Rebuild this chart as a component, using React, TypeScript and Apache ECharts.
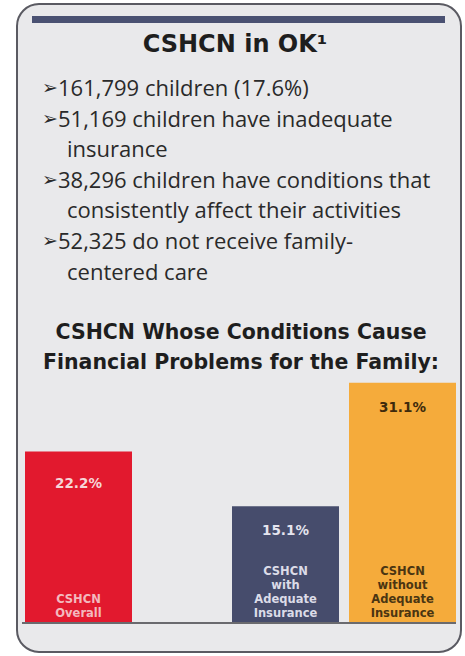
import React, { useEffect, useRef } from "react";
import * as echarts from "echarts";

// ---- data ----
const titleText = "CSHCN in OK\u00B9";
const bullets: string[][] = [
  ["161,799 children (17.6%)"],
  ["51,169 children have inadequate", "insurance"],
  ["38,296 children have conditions that", "consistently affect their activities"],
  ["52,325 do not receive family-", "centered care"],
];
const subtitleLines = ["CSHCN Whose Conditions Cause", "Financial Problems for the Family:"];
const groups = ["Overall", "By insurance status"];
const barLabels = [
  "CSHCN\nOverall",
  "CSHCN\nwith\nAdequate\nInsurance",
  "CSHCN\nwithout\nAdequate\nInsurance",
];
const barValues = [22.2, 15.1, 31.1];
const barGroup = [0, 1, 1];

// ---- styles ----
const barColors = ["#e2192e", "#464c6c", "#f5ab3b"];
const valueLabelColors = ["#f6d6d8", "#e4e4ee", "#3e2a0c"];
const nameLabelColors = ["#f3b9be", "#dcdce8", "#4a3512"];
const BODY = "'Open Sans', 'DejaVu Sans', sans-serif";
const HEAD = "'DejaVu Sans', sans-serif";

export default function App() {
  const ref = useRef<HTMLDivElement>(null);
  useEffect(() => {
    document.body.style.margin = "0";
    if (!ref.current) return;
    const chart = echarts.init(ref.current, undefined, { renderer: "svg" });

    const graphics: any[] = [];
    graphics.push({
      type: "rect",
      z: -10,
      shape: { x: 17, y: 4, width: 444, height: 648, r: 22 },
      style: { fill: "#e9e9eb", stroke: "#5a5a62", lineWidth: 2 },
    });
    graphics.push({
      type: "rect",
      z: -5,
      shape: { x: 32, y: 16, width: 413, height: 7 },
      style: { fill: "#4a5172" },
    });
    graphics.push({
      type: "text",
      x: 235,
      y: 44,
      style: {
        text: titleText,
        fill: "#1e1e1e",
        font: `bold 24px ${HEAD}`,
        textAlign: "center",
        textVerticalAlign: "middle",
      },
    });
    let li = 0;
    bullets.forEach((lines) => {
      lines.forEach((line, j) => {
        const y = 87 + li * 30.6;
        if (j === 0) {
          graphics.push({
            type: "text",
            x: 42,
            y,
            style: {
              text: "\u27A2",
              fill: "#2a2a2a",
              font: `19px 'DejaVu Sans', sans-serif`,
              textAlign: "left",
              textVerticalAlign: "middle",
            },
          });
        }
        graphics.push({
          type: "text",
          x: j === 0 ? 58 : 67,
          y,
          style: {
            text: line,
            fill: "#2a2a2a",
            font: `22px ${BODY}`,
            textAlign: "left",
            textVerticalAlign: "middle",
          },
        });
        li++;
      });
    });
    subtitleLines.forEach((line, i) => {
      graphics.push({
        type: "text",
        x: 241,
        y: 332 + i * 30,
        style: {
          text: line,
          fill: "#1e1e1e",
          font: `bold 20.5px ${HEAD}`,
          textAlign: "center",
          textVerticalAlign: "middle",
        },
      });
    });
    graphics.push({
      type: "line",
      z: 100,
      shape: { x1: 22, y1: 623, x2: 456, y2: 623 },
      style: { stroke: "#6a6a6e", lineWidth: 2 },
    });

    const common = {
      type: "bar",
      barWidth: 107,
      barGap: "9.35%",
      silent: true,
    };
    const barSeries = barValues.map((v, bi) => ({
      ...common,
      xAxisIndex: barGroup[bi],
      yAxisIndex: barGroup[bi],
      data: [
        {
          value: v,
          itemStyle: { color: barColors[bi] },
        },
      ],
      label: {
        show: true,
        position: "insideTop",
        distance: bi === 0 ? 24 : 17,
        formatter: "{c}%",
        color: valueLabelColors[bi],
        fontFamily: HEAD,
        fontWeight: "bold",
        fontSize: 13.5,
      },
    }));
    const nameSeries = barValues.map((v, bi) => ({
      ...common,
      xAxisIndex: barGroup[bi] + 2,
      yAxisIndex: barGroup[bi],
      z: 5,
      data: [
        {
          value: v,
          itemStyle: { color: "rgba(0,0,0,0)" },
        },
      ],
      label: {
        show: true,
        position: "insideBottom",
        distance: 3,
        formatter: barLabels[bi],
        color: nameLabelColors[bi],
        fontFamily: HEAD,
        fontWeight: "bold",
        fontSize: 11.5,
        lineHeight: 14,
        align: "center",
      },
    }));

    chart.setOption({
      animation: false,
      backgroundColor: "#ffffff",
      graphic: graphics,
      grid: [
        { left: 25, width: 107, top: 314, bottom: 33 },
        { left: 232, width: 224, top: 314, bottom: 33 },
      ],
      xAxis: [
        { type: "category", gridIndex: 0, data: [groups[0]], show: false },
        { type: "category", gridIndex: 1, data: [groups[1]], show: false },
        { type: "category", gridIndex: 0, data: [groups[0]], show: false },
        { type: "category", gridIndex: 1, data: [groups[1]], show: false },
      ],
      yAxis: [
        { type: "value", gridIndex: 0, min: 0, max: 40, show: false },
        { type: "value", gridIndex: 1, min: 0, max: 40, show: false },
      ],
      series: [...barSeries, ...nameSeries],
    });
    return () => chart.dispose();
  }, []);
  return <div ref={ref} style={{ width: 465, height: 656 }} />;
}
